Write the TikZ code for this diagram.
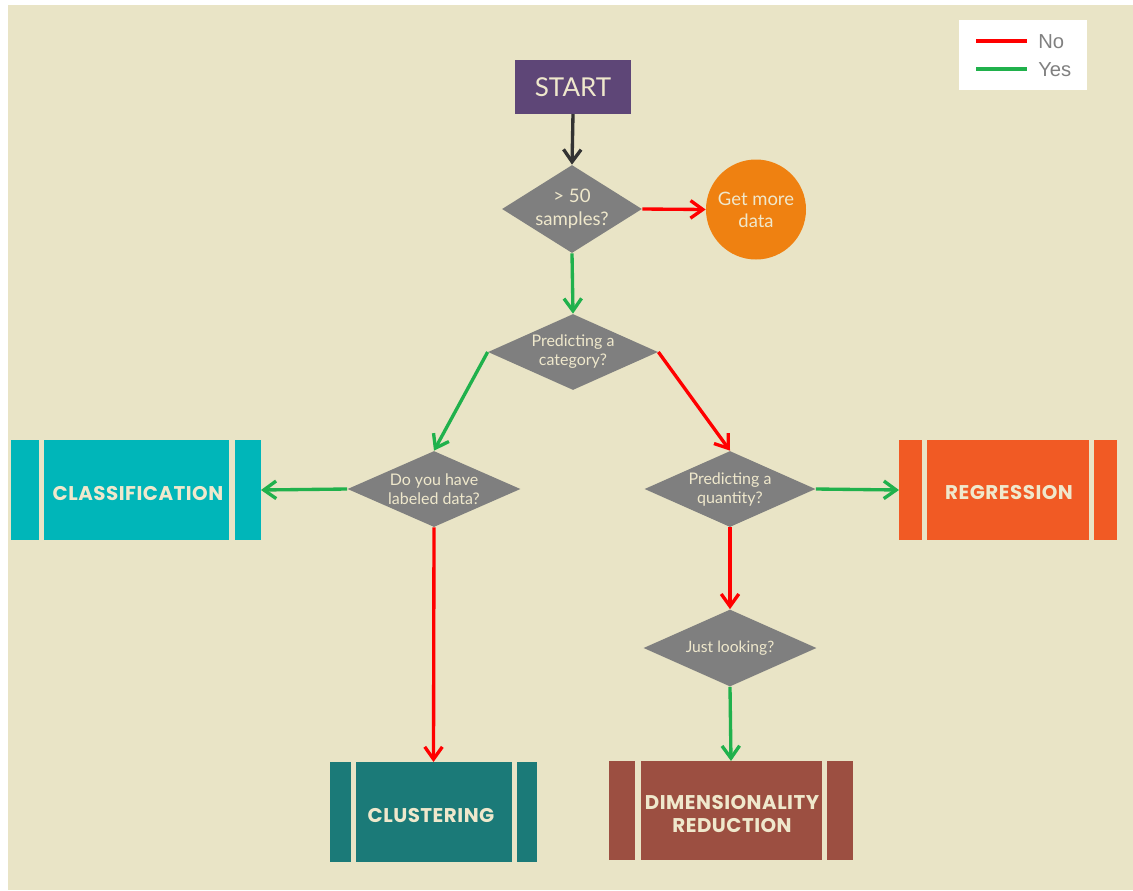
\documentclass[tikz,border=0pt]{standalone}
\usepackage{fontspec}
\setmainfont{Lato}
\newfontfamily\boxfont[LetterSpace=2.5]{Poppins}
\newfontfamily\legendfont{Liberation Sans}
\usetikzlibrary{shapes.geometric,arrows.meta}

\definecolor{bgbeige}{HTML}{E9E4C6}
\definecolor{cream}{HTML}{EFE8CC}
\definecolor{startpurple}{HTML}{5E4677}
\definecolor{diagray}{HTML}{7F7F7F}
\definecolor{moreorange}{HTML}{EF8111}
\definecolor{clsteal}{HTML}{00B6B9}
\definecolor{clugreen}{HTML}{1B7A78}
\definecolor{dimbrick}{HTML}{9C4F41}
\definecolor{regorange}{HTML}{F15A24}
\definecolor{noline}{HTML}{FF0000}
\definecolor{yesline}{HTML}{20B14C}
\definecolor{flowdark}{HTML}{333333}
\definecolor{legendtext}{HTML}{808080}

\def\u{0.02cm}

\begin{document}
\begin{tikzpicture}[x=0.02cm, y=-0.02cm,
  conn/.style={line width=1.9pt, -{Straight Barb[length=7pt,width=10pt]}},
  yes/.style={conn, draw=yesline},
  no/.style={conn, draw=noline},
  dia/.style={diamond, fill=diagray, inner sep=0pt, aspect=1.8},
  dtext/.style={text=cream, align=center, inner sep=0pt},
  btext/.style={text=cream, align=center, inner sep=0pt,
    font=\boxfont\bfseries\fontsize{11.3}{13.6}\selectfont},
  frame/.style={inner sep=0pt, outer sep=0pt},
  legtext/.style={anchor=west, inner sep=0pt, text=legendtext,
    font=\legendfont\fontsize{11.5}{13}\selectfont}
]
% page and background
\fill[white] (0,0) rectangle (1133,890);
\fill[bgbeige] (8,5) rectangle (1133,890);

% legend
\node[frame, fill=white, minimum width={128*\u}, minimum height={70*\u}] (legend) at (1023,55) {};
\coordinate (noA) at (976,41);
\coordinate (noB) at (1027,41);
\coordinate (yesA) at (976,69);
\coordinate (yesB) at (1027,69);
\draw[noline, line width=2.3pt] (noA) -- (noB);
\draw[yesline, line width=2.3pt] (yesA) -- (yesB);
\node[legtext] (nolbl) at (1038,42) {No};
\node[legtext] (yeslbl) at (1038,70) {Yes};

% start
\node[frame, fill=startpurple, minimum width={116*\u}, minimum height={54*\u}, text=cream,
  font=\fontsize{14.8}{16}\selectfont] (start) at (573,87) {START};

% decisions
\node[dia, minimum width={140*\u}, minimum height={88*\u}] (d1) at (572,209) {};
\node[dtext, font=\fontsize{10.6}{13}\selectfont] (d1t) at (572,209) {> 50\\samples?};

\node[dia, minimum width={170*\u}, minimum height={76*\u}] (d2) at (573,352) {};
\node[dtext, font=\fontsize{9.1}{10.8}\selectfont] (d2t) at (573,352) {Predicting a\\category?};

\node[dia, minimum width={173*\u}, minimum height={76*\u}] (d3) at (434,489) {};
\node[dtext, font=\fontsize{9.1}{10.8}\selectfont] (d3t) at (434,489) {Do you have\\labeled data?};

\node[dia, minimum width={171*\u}, minimum height={76*\u}] (d4) at (730,489) {};
\node[dtext, font=\fontsize{9.1}{10.8}\selectfont] (d4t) at (730,489) {Predicting a\\quantity?};

\node[dia, minimum width={173*\u}, minimum height={77*\u}] (d5) at (730,648) {};
\node[dtext, font=\fontsize{8.9}{10.8}\selectfont] (d5t) at (730,648) {Just looking?};

% get more data
\node[circle, fill=moreorange, minimum size={100*\u}, inner sep=0pt] (more) at (756,209.5) {};
\node[dtext, font=\fontsize{10.5}{12.6}\selectfont] (moret) at (756,210) {Get more\\data};

% outcome boxes: outer frames used by the connectors
\node[frame, minimum width={250*\u}, minimum height={100*\u}] (cls) at (136,490) {};
\fill[clsteal] (11,440) rectangle (39,540);
\fill[clsteal] (44,440) rectangle (229,540);
\fill[clsteal] (235,440) rectangle (261,540);
\node[btext] (clst) at (138,493) {CLASSIFICATION};

\node[frame, minimum width={218*\u}, minimum height={100*\u}] (reg) at (1008,490) {};
\fill[regorange] (899,440) rectangle (922,540);
\fill[regorange] (927,440) rectangle (1089,540);
\fill[regorange] (1094,440) rectangle (1117,540);
\node[btext] (regt) at (1009,492) {REGRESSION};

\node[frame, minimum width={207*\u}, minimum height={100*\u}] (clu) at (433.5,812) {};
\fill[clugreen] (330,762) rectangle (351,862);
\fill[clugreen] (356,762) rectangle (512,862);
\fill[clugreen] (517,762) rectangle (537,862);
\node[btext] (clut) at (431,815) {CLUSTERING};

\node[frame, minimum width={244*\u}, minimum height={99*\u}] (dim) at (731,810.5) {};
\fill[dimbrick] (609,761) rectangle (635,860);
\fill[dimbrick] (641,761) rectangle (822,860);
\fill[dimbrick] (827,761) rectangle (853,860);
\node[btext] (dimt) at (732,814) {DIMENSIONALITY\\REDUCTION};

% connectors
\draw[conn, draw=flowdark] (start.south) -- (d1.north);
\draw[no] (d1.east) -- (more.west);
\draw[yes] (d1.south) -- (d2.north);
\draw[yes] (d2.west) -- (d3.north);
\draw[no] (d2.east) -- (d4.north);
\draw[yes] (d3.west) -- (cls.east);
\draw[no] (d3.south) -- (clu.north);
\draw[yes] (d4.east) -- (reg.west);
\draw[no] (d4.south) -- (d5.north);
\draw[yes] (d5.south) -- (dim.north);
\end{tikzpicture}
\end{document}
